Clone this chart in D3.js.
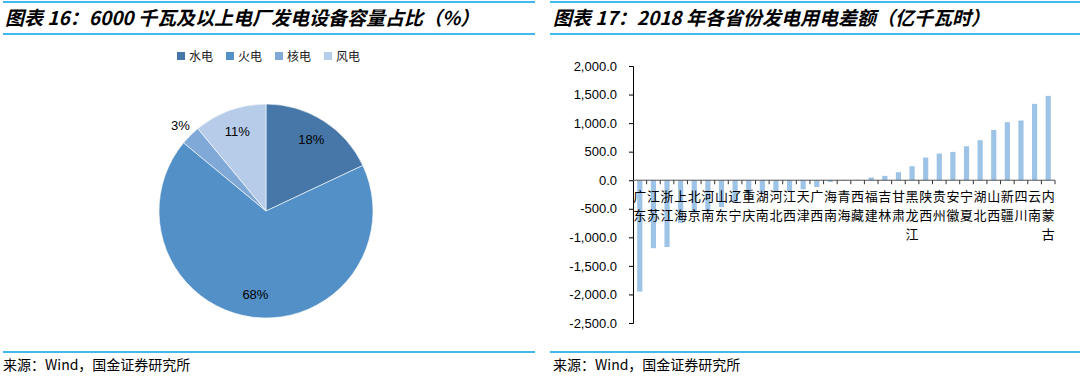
<!DOCTYPE html>
<html>
<head>
<meta charset="utf-8">
<script src="https://cdn.jsdelivr.net/npm/d3@7"></script>
<style>
  body { margin: 0; background: #fff; }
  svg { display: block; }
</style>
</head>
<body>
<div id="chart"></div>
<script>
// pie data
var pieCats = ["水电", "火电", "核电", "风电"];
var pieShares = [18, 68, 3, 11];
var pieColors = ["#4677a8", "#5290c7", "#80a9d8", "#b6cce8"];

// bar data (亿千瓦时)
var provinces = ["广东", "江苏", "浙江", "上海", "北京", "河南", "山东", "辽宁", "重庆", "湖南", "河北",
  "江西", "天津", "广西", "海南", "青海", "西藏", "福建", "吉林", "甘肃", "黑龙江", "陕西", "贵州",
  "安徽", "宁夏", "湖北", "山西", "新疆", "四川", "云南", "内蒙古"];
var diffValues = [-1950, -1190, -1170, -750, -590, -550, -470, -390, -260, -240, -215,
  -195, -160, -120, -30, -10, 8, 47, 76, 140, 245, 397, 467,
  496, 595, 700, 881, 1016, 1045, 1337, 1477];
var yTickValues = [-2500, -2000, -1500, -1000, -500, 0, 500, 1000, 1500, 2000];

var W = 1080, H = 376;
var blue = "#00a2e8";
var cjk = "'Noto Sans CJK SC', sans-serif";
var latin = "'Liberation Sans', Arial, sans-serif";

var svg = d3.select("#chart").append("svg")
    .attr("width", W)
    .attr("height", H);

// frame lines + titles + sources for both panels
var panels = [
  { x0: 3, x1: 535, title: "图表 16：6000 千瓦及以上电厂发电设备容量占比（%）", tx: 5 },
  { x0: 550, x1: 1080, title: "图表 17：2018 年各省份发电用电差额（亿千瓦时）", tx: 553 }
];
panels.forEach(function (p) {
  [2, 34, 352].forEach(function (y) {
    svg.append("line").attr("x1", p.x0).attr("x2", p.x1).attr("y1", y).attr("y2", y)
      .attr("stroke", blue).attr("stroke-width", 1.5);
  });
  svg.append("text").attr("x", p.tx).attr("y", 25)
    .text(p.title)
    .style("font-family", cjk).style("font-size", "19px")
    .style("font-weight", "bold").style("font-style", "italic").style("fill", "#000");
  svg.append("text").attr("x", p.x0 + (p.tx === 5 ? 0 : 3)).attr("y", 370)
    .text("来源：Wind，国金证券研究所")
    .style("font-family", cjk).style("font-size", "14px").style("fill", "#000");
});

// ---------- pie ----------
var cx = 266, cy = 211, r = 107;
var gPie = svg.append("g").attr("transform", "translate(" + cx + "," + cy + ")");
var pie = d3.pie().sort(null).value(function (d) { return d; });
var arcs = pie(pieShares);
var arc = d3.arc().innerRadius(0).outerRadius(r);
var labelArc = d3.arc().innerRadius(r * 0.79).outerRadius(r * 0.79);
var outerArc = d3.arc().innerRadius(r * 1.13).outerRadius(r * 1.13);

gPie.selectAll("path")
  .data(arcs)
  .enter()
  .append("path")
  .attr("d", arc)
  .attr("fill", function (d, i) { return pieColors[i]; })
  .attr("stroke", "#fff")
  .attr("stroke-width", 0.6);

gPie.selectAll("text")
  .data(arcs)
  .enter()
  .append("text")
  .attr("transform", function (d) {
    var c = d.data < 5 ? outerArc.centroid(d) : labelArc.centroid(d);
    return "translate(" + c + ")";
  })
  .attr("text-anchor", "middle")
  .attr("dy", "0.35em")
  .text(function (d) { return d.data + "%"; })
  .style("font-family", latin).style("font-size", "13px").style("fill", "#000");

// legend
var legend = svg.append("g").selectAll("g")
  .data(pieCats)
  .enter()
  .append("g")
  .attr("transform", function (d, i) { return "translate(" + (177 + i * 49) + ",52)"; });
legend.append("rect").attr("width", 8).attr("height", 8)
  .attr("fill", function (d, i) { return pieColors[i]; });
legend.append("text").attr("x", 12).attr("y", 8.5)
  .text(function (d) { return d; })
  .style("font-family", cjk).style("font-size", "12px").style("fill", "#222");

// ---------- bars ----------
var x = d3.scaleBand()
  .domain(provinces)
  .range([633, 1055])
  .paddingInner(0.62)
  .paddingOuter(0.31);
var y = d3.scaleLinear()
  .domain([-2500, 2000])
  .range([323, 66]);

var fmt = d3.format(",.1f");
var gy = svg.append("g").attr("transform", "translate(633,0)")
  .call(d3.axisLeft(y).tickValues(yTickValues).tickSize(4).tickPadding(12)
    .tickFormat(function (d) { return fmt(d).replace("−", "-"); }));
gy.select(".domain").attr("stroke", "#000");
gy.selectAll(".tick line").attr("stroke", "#000");
gy.selectAll("text").style("font-family", latin).style("font-size", "13px").style("fill", "#000");

svg.append("g").selectAll("rect")
  .data(diffValues)
  .enter()
  .append("rect")
  .attr("x", function (d, i) { return x(provinces[i]); })
  .attr("width", x.bandwidth())
  .attr("y", function (d) { return y(Math.max(0, d)); })
  .attr("height", function (d) { return Math.abs(y(d) - y(0)); })
  .attr("fill", "#9dc3e6");

// x axis at zero with ticks at category boundaries
var step = x.step();
svg.append("line")
  .attr("x1", 633).attr("x2", 1055)
  .attr("y1", y(0)).attr("y2", y(0))
  .attr("stroke", "#555").attr("stroke-width", 1);
svg.append("g").selectAll("line")
  .data(provinces)
  .enter()
  .append("line")
  .attr("x1", function (d) { return x(d) - x.bandwidth() * 0 - (step - x.bandwidth()) / 2 + step; })
  .attr("x2", function (d) { return x(d) - (step - x.bandwidth()) / 2 + step; })
  .attr("y1", y(0)).attr("y2", y(0) + 4)
  .attr("stroke", "#333");

// vertical labels
var labels = svg.append("g").selectAll("text")
  .data(provinces)
  .enter()
  .append("text")
  .attr("text-anchor", "middle")
  .style("font-family", cjk).style("font-size", "13px").style("fill", "#000");
labels.each(function (d) {
  var t = d3.select(this);
  var cxl = x(d) + x.bandwidth() / 2;
  d.split("").forEach(function (ch, k) {
    t.append("tspan").attr("x", cxl).attr("y", 201 + k * 19).text(ch);
  });
});
</script>
</body>
</html>
